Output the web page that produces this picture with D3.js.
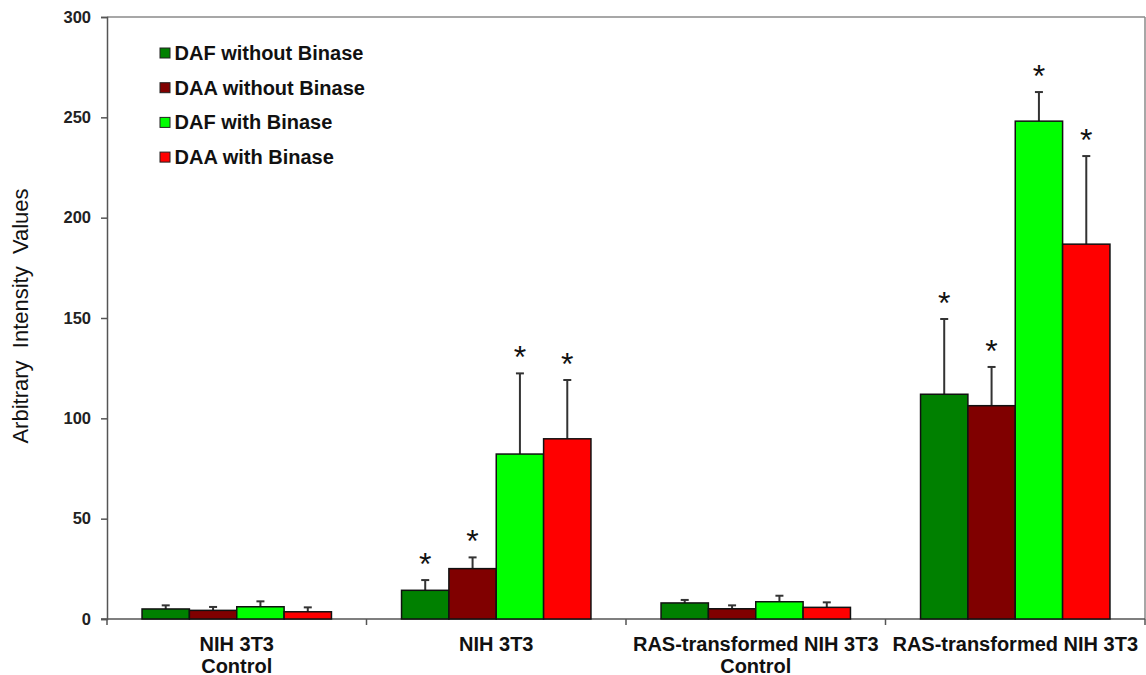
<!DOCTYPE html>
<html>
<head>
<meta charset="utf-8">
<script src="https://cdn.jsdelivr.net/npm/d3@7"></script>
<style>
  body { margin: 0; background: #fff; }
  svg { display: block; font-family: "Liberation Sans", Arial, sans-serif; }
</style>
</head>
<body>
<svg id="chart" width="1146" height="675"></svg>
<script>
// ---- data ----
const categories = ["NIH 3T3\nControl", "NIH 3T3", "RAS-transformed NIH 3T3\nControl", "RAS-transformed NIH 3T3"];
const seriesNames = ["DAF without Binase", "DAA without Binase", "DAF with Binase", "DAA with Binase"];
const seriesColors = ["#008000", "#800000", "#00ff00", "#ff0000"];
const dafWithout = [5.0, 14.3, 8.0, 112.0];
const daaWithout = [4.3, 25.1, 5.1, 106.3];
const dafWith    = [6.1, 82.2, 8.6, 248.1];
const daaWith    = [3.6, 89.8, 5.8, 186.8];
const errDafWithout = [1.8, 5.1, 1.5, 37.5];
const errDaaWithout = [1.7, 5.6, 1.7, 19.3];
const errDafWith    = [2.7, 40.2, 3.0, 14.5];
const errDaaWith    = [2.2, 29.3, 2.5, 43.9];
const significant = [false, true, false, true];
const yTicks = [0, 50, 100, 150, 200, 250, 300];
const yTitle = "Arbitrary  Intensity  Values";

const values = [dafWithout, daaWithout, dafWith, daaWith];
const errors = [errDafWithout, errDaaWithout, errDafWith, errDaaWith];

// ---- layout ----
const svg = d3.select("#chart");
const mLeft = 107, mRight = 1145, mTop = 17, mBottom = 619;

const x0 = d3.scaleBand().domain(categories).range([mLeft, mRight]).padding(0);
const x1 = d3.scaleBand().domain(seriesNames).range([0, x0.bandwidth()])
  .paddingInner(0).paddingOuter(0.74);
const y = d3.scaleLinear().domain([0, 300]).range([mBottom, mTop]);

// frame: top and right
svg.append("line").attr("x1", mLeft).attr("x2", mRight).attr("y1", mTop).attr("y2", mTop)
  .attr("stroke", "#8a8a8a").attr("stroke-width", 1.5);
svg.append("line").attr("x1", mRight).attr("x2", mRight).attr("y1", mTop).attr("y2", mBottom)
  .attr("stroke", "#8a8a8a").attr("stroke-width", 1.5);

// y axis
const yAxis = d3.axisLeft(y).tickValues(yTicks).tickSize(6).tickPadding(10);
const yg = svg.append("g").attr("transform", `translate(${mLeft},0)`).call(yAxis);
yg.attr("font-family", null).attr("font-size", null);
yg.select(".domain").attr("stroke", "#555").attr("stroke-width", 1.5);
yg.selectAll(".tick line").attr("stroke", "#555").attr("stroke-width", 1.5);
yg.selectAll(".tick text").attr("font-size", 16.5).attr("font-weight", "bold").attr("fill", "#222");

// x axis line and category divider ticks
svg.append("line").attr("x1", mLeft - 6).attr("x2", mRight).attr("y1", mBottom).attr("y2", mBottom)
  .attr("stroke", "#555").attr("stroke-width", 1.5);
const dividers = categories.map(c => x0(c)).concat([x0(categories[categories.length - 1]) + x0.bandwidth()]);
svg.selectAll(".divtick").data(dividers).enter().append("line")
  .attr("x1", d => d).attr("x2", d => d).attr("y1", mBottom).attr("y2", mBottom + 6)
  .attr("stroke", "#555").attr("stroke-width", 1.5);

// category labels
const labG = svg.selectAll(".catlab").data(categories).enter().append("text")
  .attr("x", d => x0(d) + x0.bandwidth() / 2)
  .attr("y", 651)
  .attr("text-anchor", "middle").attr("font-size", 20).attr("font-weight", "bold").attr("fill", "#111");
labG.each(function(d) {
  const lines = d.split("\n");
  const t = d3.select(this);
  lines.forEach((ln, i) => {
    t.append("tspan").attr("x", x0(d) + x0.bandwidth() / 2).attr("dy", i === 0 ? 0 : 21.5).text(ln);
  });
});

// bars
const rows = [];
categories.forEach((c, ci) => {
  seriesNames.forEach((s, si) => {
    rows.push({ c, s, si, ci, v: values[si][ci], e: errors[si][ci], sig: significant[ci] });
  });
});

const groups = svg.append("g");
const eg = groups.selectAll(".err").data(rows).enter().append("g");
eg.append("line")
  .attr("x1", d => x0(d.c) + x1(d.s) + x1.bandwidth() / 2)
  .attr("x2", d => x0(d.c) + x1(d.s) + x1.bandwidth() / 2)
  .attr("y1", d => y(d.v)).attr("y2", d => y(d.v + d.e))
  .attr("stroke", "#333").attr("stroke-width", 2);
eg.append("line")
  .attr("x1", d => x0(d.c) + x1(d.s) + x1.bandwidth() / 2 - 4)
  .attr("x2", d => x0(d.c) + x1(d.s) + x1.bandwidth() / 2 + 4)
  .attr("y1", d => y(d.v + d.e)).attr("y2", d => y(d.v + d.e))
  .attr("stroke", "#333").attr("stroke-width", 2);

groups.selectAll(".bar").data(rows).enter().append("rect")
  .attr("x", d => x0(d.c) + x1(d.s))
  .attr("y", d => y(d.v))
  .attr("width", x1.bandwidth())
  .attr("height", d => y(0) - y(d.v))
  .attr("fill", d => seriesColors[d.si])
  .attr("stroke", "#111").attr("stroke-width", 1.5);

// significance asterisks
groups.selectAll(".star").data(rows.filter(d => d.sig)).enter().append("text")
  .attr("x", d => x0(d.c) + x1(d.s) + x1.bandwidth() / 2)
  .attr("y", d => y(d.v + d.e) - 5)
  .attr("text-anchor", "middle").attr("font-size", 32).attr("fill", "#111")
  .text("*");

// legend
const lg = svg.append("g");
seriesNames.forEach((s, i) => {
  const yy = 60 + i * 34.7;
  lg.append("rect").attr("x", 160).attr("y", yy - 12).attr("width", 10).attr("height", 10)
    .attr("fill", seriesColors[i]).attr("stroke", "#222").attr("stroke-width", 1);
  lg.append("text").attr("x", 174.5).attr("y", yy).attr("font-size", 20).attr("font-weight", "bold")
    .attr("fill", "#111").text(s);
});

// y title
svg.append("text")
  .attr("transform", "translate(28,316) rotate(-90)")
  .attr("text-anchor", "middle").attr("font-size", 22).attr("fill", "#111")
  .style("white-space", "pre")
  .text(yTitle);
</script>
</body>
</html>
